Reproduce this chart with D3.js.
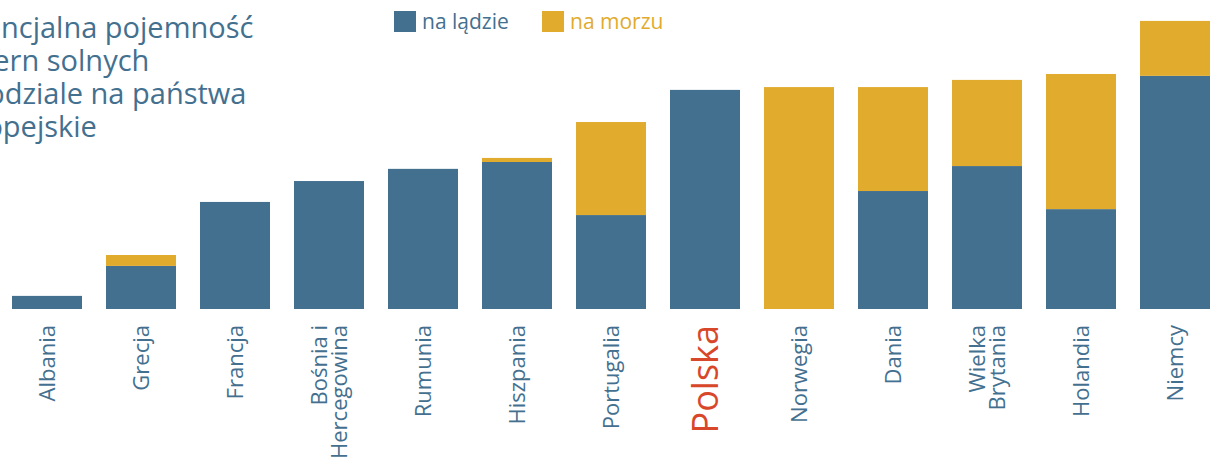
<!DOCTYPE html>
<html>
<head>
<meta charset="utf-8">
<script src="https://cdn.jsdelivr.net/npm/d3@7"></script>
<style>
    body { margin: 0; background: #fff; }
    svg { display: block; }
    svg text { font-family: 'Open Sans', sans-serif; }
</style>
</head>
<body>
<div class="chart"></div>
<script>
// kraje, wartości w PWh
const countries = ['Albania', 'Grecja', 'Francja', 'Bośnia i|Hercegowina', 'Rumunia', 'Hiszpania',
    'Portugalia', 'Polska', 'Norwegia', 'Dania', 'Wielka|Brytania', 'Holandia', 'Niemcy'];
const onshore = [0.42, 1.38, 3.43, 4.1, 4.49, 4.71, 3.01, 7.02, 0, 3.78, 4.58, 3.2, 7.47];
const offshore = [0, 0.35, 0, 0, 0, 0.13, 2.98, 0, 7.11, 3.33, 2.76, 4.33, 1.76];
const seriesNames = ['na lądzie', 'na morzu'];
const titleLines = ['Potencjalna pojemność', 'kawern solnych', 'w podziale na państwa', 'europejskie'];

const COLORS = { land: '#44708f', sea: '#e1ab2e', highlight: '#d9472b' };
const WIDTH = 1210;
const HEIGHT = 457;
const BASE = 309;

const rows = countries.map((c, i) => ({ name: c, land: onshore[i], sea: offshore[i] }));

const svg = d3.select('.chart')
    .append('svg')
    .attr('width', WIDTH)
    .attr('height', HEIGHT);

const xScale = d3.scaleBand()
    .domain(countries)
    .range([12, WIDTH])
    .paddingInner(24 / 94)
    .paddingOuter(0);

const yScale = d3.scaleLinear()
    .domain([0, 9.9])
    .range([BASE, 0]);

const stack = d3.stack().keys(['land', 'sea']);
const layers = stack(rows);

// Add bars
svg.selectAll('.layer')
    .data(layers)
    .join('g')
    .attr('class', 'layer')
    .attr('fill', (d) => (d.key === 'land' ? COLORS.land : COLORS.sea))
    .selectAll('rect')
    .data((d) => d)
    .join('rect')
    .attr('x', (d) => xScale(d.data.name))
    .attr('width', xScale.bandwidth())
    .attr('y', (d) => yScale(d[1]))
    .attr('height', (d) => yScale(d[0]) - yScale(d[1]));

// x axis labels (rotated)
const xAxis = d3.axisBottom(xScale).tickSize(0).tickFormat('');
const xAxisEl = svg.append('g')
    .attr('transform', `translate(0, ${BASE})`)
    .call(xAxis);
xAxisEl.select('.domain').remove();

xAxisEl.selectAll('.tick').each(function (name) {
    const lines = name.split('|');
    const isPl = name === 'Polska';
    const t = d3.select(this).append('text')
        .attr('transform', 'rotate(-90)')
        .attr('text-anchor', 'end')
        .attr('fill', isPl ? COLORS.highlight : COLORS.land)
        .attr('font-size', isPl ? 36 : 22);
    const gap = 20;
    lines.forEach((l, i) => {
        const off = (i - (lines.length - 1) / 2) * gap;
        t.append('tspan')
            .attr('x', -16)
            .attr('y', off)
            .attr('dy', '0.36em')
            .text(l);
    });
});

// title, cut off on the left like in the source image
const title = svg.append('text')
    .attr('fill', COLORS.land)
    .attr('font-size', 29);
title.selectAll('tspan')
    .data(titleLines)
    .join('tspan')
    .attr('y', (d, i) => 38 + i * 33)
    .text((d) => d);
// the visible part of line one starts at "ncjalna"
const first = title.select('tspan');
const hidden = first.node().getSubStringLength(0, 4);
title.selectAll('tspan').attr('x', 1 - hidden);

// legend
const legend = svg.append('g').attr('transform', 'translate(394, 11)');
const legendX = [0, 148];
seriesNames.forEach((s, i) => {
    const g = legend.append('g').attr('transform', `translate(${legendX[i]}, 0)`);
    const c = i === 0 ? COLORS.land : COLORS.sea;
    g.append('rect').attr('width', 22).attr('height', 21).attr('fill', c);
    g.append('text')
        .attr('x', 28)
        .attr('y', 18)
        .attr('font-size', 21)
        .attr('fill', c)
        .text(s);
});
</script>
</body>
</html>
